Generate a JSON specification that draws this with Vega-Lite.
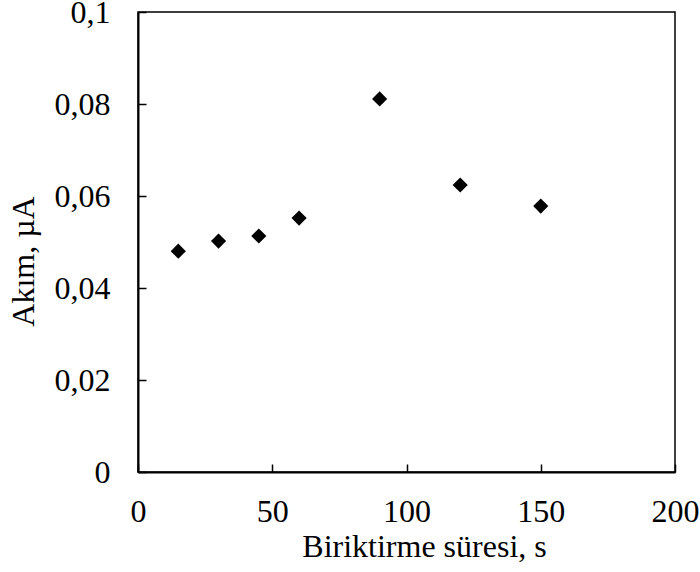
{
  "$schema": "https://vega.github.io/schema/vega-lite/v6.json",
  "autosize": "none",
  "padding": {"left": 138, "top": 12, "right": 25, "bottom": 100},
  "width": 537,
  "height": 460,
  "config": {
    "view": {"stroke": "black", "strokeWidth": 1.5},
    "font": "Liberation Serif",
    "axis": {
      "grid": false,
      "domainColor": "black",
      "domainWidth": 2,
      "tickColor": "black",
      "tickWidth": 1.5,
      "tickSize": -8,
      "labelFlush": false,
      "labelFont": "Liberation Serif",
      "labelFontSize": 32,
      "labelColor": "black",
      "titleFont": "Liberation Serif",
      "titleFontSize": 32,
      "titleFontWeight": "normal",
      "titleColor": "black"
    }
  },
  "data": {
    "values": [
      {"t": 15, "i": 0.0480},
      {"t": 30, "i": 0.0502},
      {"t": 45, "i": 0.0513},
      {"t": 60, "i": 0.0552},
      {"t": 90, "i": 0.0811},
      {"t": 120, "i": 0.0624},
      {"t": 150, "i": 0.0578}
    ]
  },
  "mark": {"type": "point", "shape": "diamond", "filled": true, "color": "black", "opacity": 1, "size": 230},
  "encoding": {
    "x": {
      "field": "t", "type": "quantitative",
      "scale": {"domain": [0, 200], "nice": false},
      "axis": {"title": "Biriktirme süresi, s", "values": [0, 50, 100, 150, 200],
        "labelFlush": false, "labelOverlap": false,
        "labelPadding": 32, "titlePadding": 4, "titleX": 286}
    },
    "y": {
      "field": "i", "type": "quantitative",
      "scale": {"domain": [0, 0.1], "nice": false},
      "axis": {"title": "Akım, µA", "values": [0, 0.02, 0.04, 0.06, 0.08, 0.1],
        "labelExpr": "replace(format(datum.value, '~g'), '.', ',')",
        "labelFlush": false, "labelOverlap": false,
        "labelPadding": 36, "titlePadding": 14, "titleY": 249}
    }
  }
}
